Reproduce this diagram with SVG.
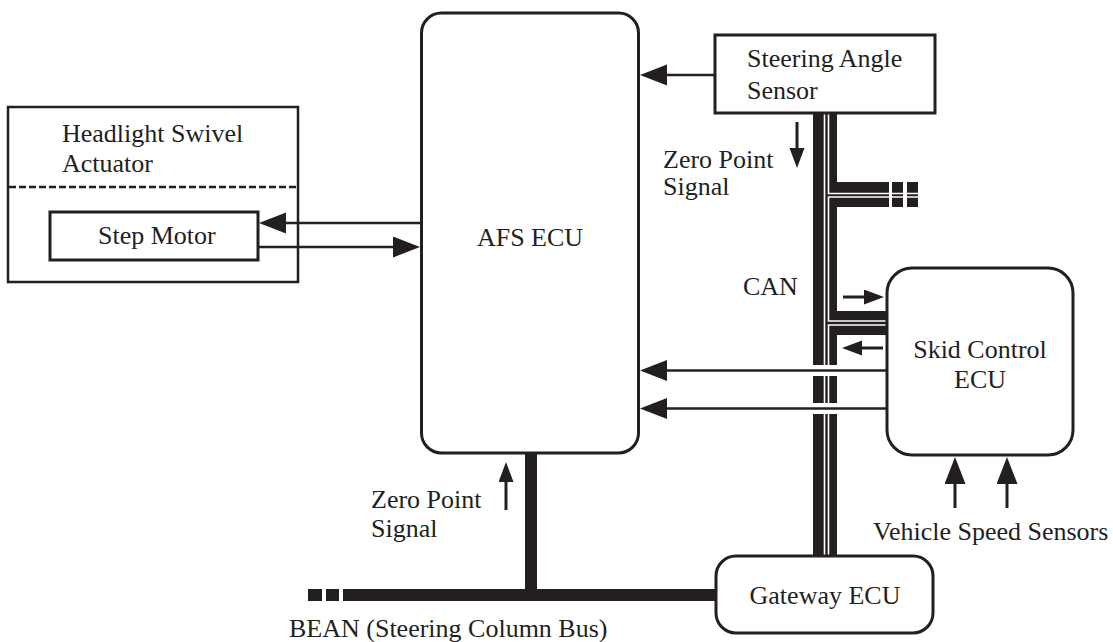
<svg xmlns="http://www.w3.org/2000/svg" width="1113" height="642" viewBox="0 0 1113 642">
<style>
text{font-family:"Liberation Serif","Times New Roman",serif;font-size:26px;fill:#231f20}
.box{fill:#fff;stroke:#231f20;stroke-width:3}
.ln{fill:none;stroke:#231f20;stroke-width:2.5}
.ln3{fill:none;stroke:#231f20;stroke-width:3}
.bus{fill:#231f20}
.wl{fill:none;stroke:#fff;stroke-width:1.6}
.mid{text-anchor:middle}
</style>
<defs>
<marker id="big" markerUnits="userSpaceOnUse" markerWidth="28" markerHeight="22" refX="19" refY="10.5" orient="auto"><path d="M0,0 L27,10.5 L0,21 Z" fill="#231f20"/></marker>
<marker id="sm" markerUnits="userSpaceOnUse" markerWidth="21" markerHeight="16" refX="12" refY="7.5" orient="auto"><path d="M0,0 L20,7.5 L0,15 Z" fill="#231f20"/></marker>
</defs>
<g id="connectors">
<!-- CAN bus -->
<rect class="bus" x="813" y="113" width="24" height="443"/>
<rect class="bus" x="837" y="182" width="52" height="25"/>
<rect class="bus" x="892" y="182" width="11" height="25"/>
<rect class="bus" x="907" y="182" width="11" height="25"/>
<rect class="bus" x="837" y="311" width="50" height="24"/>
<path class="wl" d="M824.5 113 V556"/>
<path class="wl" d="M828.5 113 V193.5 H918"/>
<path class="wl" d="M918 197 H828.5 V321 H887"/>
<path class="wl" d="M887 325 H828.5 V556"/>
<rect x="810" y="365" width="30" height="11" fill="#fff"/>
<rect x="810" y="403" width="30" height="11" fill="#fff"/>
<!-- BEAN bus -->
<rect class="bus" x="308" y="589" width="14" height="12"/>
<rect class="bus" x="326" y="589" width="13" height="12"/>
<rect class="bus" x="343" y="589" width="375" height="12"/>
<rect class="bus" x="525" y="452" width="12" height="140"/>
<!-- arrows -->
<line class="ln" x1="421" y1="223" x2="267" y2="223" marker-end="url(#big)"/>
<line class="ln" x1="259" y1="247" x2="412" y2="247" marker-end="url(#big)"/>
<line class="ln" x1="715" y1="75" x2="648" y2="75" marker-end="url(#big)"/>
<line class="ln" x1="887" y1="370.5" x2="648" y2="370.5" marker-end="url(#big)"/>
<line class="ln" x1="887" y1="408.5" x2="648" y2="408.5" marker-end="url(#big)"/>
<line class="ln3" x1="797" y1="122" x2="797" y2="160" marker-end="url(#sm)"/>
<line class="ln3" x1="506" y1="510" x2="506" y2="470" marker-end="url(#sm)"/>
<line class="ln3" x1="843" y1="297" x2="876" y2="297" marker-end="url(#sm)"/>
<line class="ln3" x1="883" y1="348" x2="850" y2="348" marker-end="url(#sm)"/>
<line class="ln3" x1="955" y1="508" x2="955" y2="465" marker-end="url(#big)"/>
<line class="ln3" x1="1007" y1="508" x2="1007" y2="465" marker-end="url(#big)"/>
</g>
<g id="headlight-actuator">
<rect x="8" y="107" width="290" height="175" fill="none" stroke="#231f20" stroke-width="2.5"/>
<line x1="9" y1="187" x2="297" y2="187" stroke="#231f20" stroke-width="2.5" stroke-dasharray="7 3"/>
<text x="62" y="142">Headlight Swivel</text>
<text x="62" y="172">Actuator</text>
</g>
<g id="step-motor">
<rect class="box" x="50" y="212" width="208" height="48"/>
<text x="98" y="244">Step Motor</text>
</g>
<g id="afs-ecu">
<rect class="box" x="421.5" y="13" width="217" height="440" rx="20"/>
<text class="mid" x="530" y="246">AFS ECU</text>
</g>
<g id="steering-angle-sensor">
<rect class="box" x="715" y="35" width="220" height="78"/>
<text x="747" y="67">Steering Angle</text>
<text x="747" y="99">Sensor</text>
</g>
<g id="skid-control-ecu">
<rect class="box" x="887" y="268" width="186" height="187" rx="25"/>
<text class="mid" x="980" y="358">Skid Control</text>
<text class="mid" x="980" y="388">ECU</text>
</g>
<g id="gateway-ecu">
<rect class="box" x="716" y="556" width="217" height="77" rx="20"/>
<text class="mid" x="825" y="604">Gateway ECU</text>
</g>
<g id="labels">
<text x="663" y="168">Zero Point</text>
<text x="663" y="195">Signal</text>
<text x="371" y="508">Zero Point</text>
<text x="371" y="537">Signal</text>
<text x="743" y="295">CAN</text>
<text x="873" y="540">Vehicle Speed Sensors</text>
<text x="289" y="637">BEAN (Steering Column Bus)</text>
</g>
</svg>
